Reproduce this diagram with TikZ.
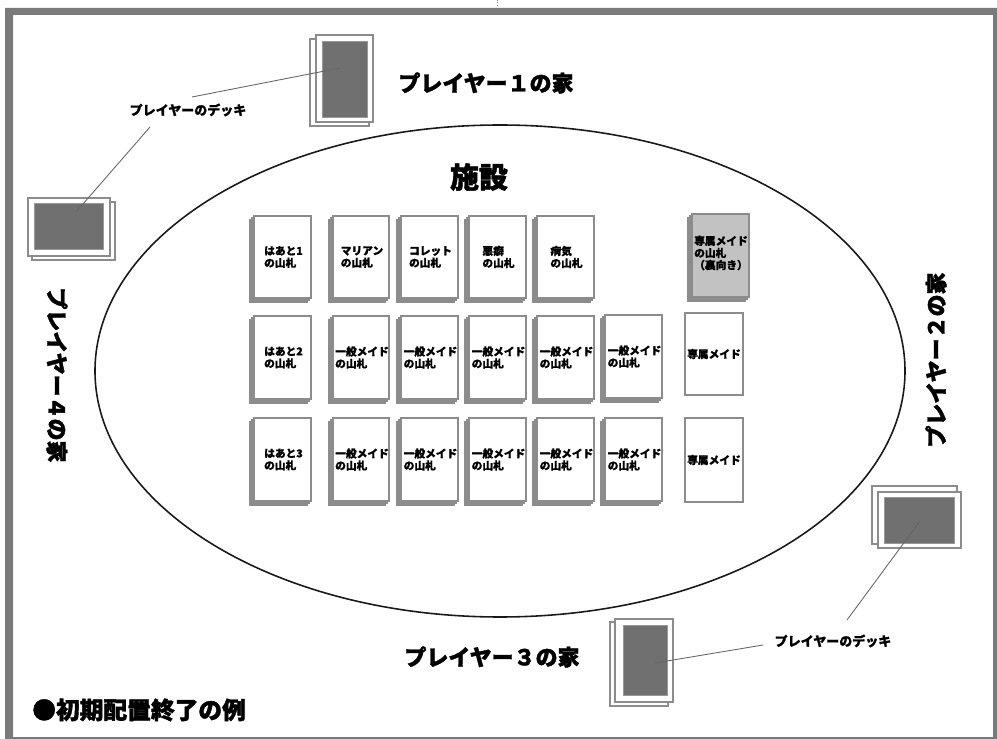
\documentclass[tikz,border=0pt]{standalone}
\usepackage{fontspec}
\newfontfamily\jp{Noto Sans CJK JP}
\newfontfamily\jph{Noto Sans CJK JP}[BoldFeatures={FakeBold=1.6}]
\newfontfamily\jpm{Noto Sans CJK JP}[BoldFeatures={FakeBold=0.9}]
\begin{document}
\begin{tikzpicture}[x=0.02cm,y=-0.02cm,
  frame/.style={fill=black!52, even odd rule},
  cardedge/.style={draw=black!45, line width=0.6pt, fill=white},
  greycard/.style={draw=black!45, line width=0.6pt, fill=black!24},
  darkback/.style={fill=black!56, draw=black!40, line width=0.3pt},
  cardtext/.style={font=\jpm\bfseries\fontsize{6.1}{6.9}\selectfont, align=left, inner sep=0pt},
  leader/.style={draw=black!60, line width=0.5pt},
  deckcap/.style={font=\jpm\bfseries\fontsize{7.4}{8}\selectfont, inner sep=1pt},
  house/.style={font=\jph\bfseries\fontsize{12.5}{13}\selectfont, inner sep=0pt},
  facility/.style={font=\jph\bfseries\fontsize{16.5}{17}\selectfont, inner sep=0pt},
  field/.style={draw=black!90, line width=0.9pt}]
\useasboundingbox (0,0) rectangle (997,739);
% frame
\path[frame] (5,8) rectangle (997,739) (13,15) rectangle (993,737);
\draw[black!50, densely dotted, line width=0.4pt] (497,0) -- (497,6);
% facility ellipse
\draw[field] (500,371) ellipse [x radius=405, y radius=246];
\node[facility] (fac) at (479,177) {施設};

% stacked pile macro: name, x1, y1, x2, y2, text
\newcommand\pile[6]{%
  \draw[cardedge] (#2-4,#3+4) rectangle (#4-4,#5+4);
  \draw[cardedge] (#2-2,#3+2) rectangle (#4-2,#5+2);
  \draw[cardedge] (#2,#3) rectangle (#4,#5);
  \node[cardtext] (#1) at ({(#2+#4)/2+1},{(#3+#5)/2}) {#6};}

% row 1
\pile{h1}{254}{216}{311}{298}{はあと1\\の山札}
\pile{mar}{333}{216}{389}{298}{マリアン\\の山札}
\pile{col}{401}{216}{458}{298}{コレット\\の山札}
\pile{aku}{469}{216}{526}{298}{悪癖\\の山札}
\pile{byo}{537}{216}{594}{298}{病気\\の山札}
\draw[cardedge] (688,218) rectangle (745,301);
\draw[cardedge] (690,216) rectangle (747,299);
\draw[greycard] (692,214) rectangle (749,297);
\node[cardtext] (sen) at (721,253) {専属メイド\\の山札\\（裏向き）};

% row 2
\pile{h2}{254}{316}{311}{399}{はあと2\\の山札}
\pile{ga1}{333}{316}{389}{399}{一般メイド\\の山札}
\pile{ga2}{401}{316}{458}{399}{一般メイド\\の山札}
\pile{ga3}{469}{316}{526}{399}{一般メイド\\の山札}
\pile{ga4}{537}{316}{594}{399}{一般メイド\\の山札}
\pile{ga5}{605}{315}{662}{398}{一般メイド\\の山札}
\draw[cardedge] (685,313) rectangle (743,395);
\node[cardtext] (sm1) at (714,354) {専属メイド};

% row 3
\pile{h3}{254}{418}{311}{501}{はあと3\\の山札}
\pile{gb1}{333}{418}{389}{501}{一般メイド\\の山札}
\pile{gb2}{401}{418}{458}{501}{一般メイド\\の山札}
\pile{gb3}{469}{418}{526}{501}{一般メイド\\の山札}
\pile{gb4}{537}{418}{594}{501}{一般メイド\\の山札}
\pile{gb5}{605}{418}{662}{501}{一般メイド\\の山札}
\draw[cardedge] (685,418) rectangle (743,502);
\node[cardtext] (sm2) at (714,460) {専属メイド};

% player decks
% player 1
\draw[cardedge] (310,39) rectangle (369,126);
\draw[cardedge] (316,35) rectangle (373,122);
\path[darkback] (322,41) rectangle (367,117);
\coordinate (d1) at (340,68);
% player 4
\draw[cardedge] (32,202) rectangle (115,260);
\draw[cardedge] (28,198) rectangle (110,256);
\path[darkback] (34,203) rectangle (103,249);
\coordinate (d4) at (76,212);
% player 2
\draw[cardedge] (872,486) rectangle (957,544);
\draw[cardedge] (878,492) rectangle (961,548);
\path[darkback] (884,497) rectangle (954,543);
\coordinate (d2) at (920,521);
% player 3
\draw[cardedge] (610,622) rectangle (668,706);
\draw[cardedge] (615,619) rectangle (673,702);
\path[darkback] (623,625) rectangle (667,695);
\coordinate (d3) at (655,663);

% deck captions and leaders
\node[deckcap] (capA) at (188,110) {プレイヤーのデッキ};
\node[deckcap] (capB) at (833,641) {プレイヤーのデッキ};
\coordinate (a1) at (192,97);
\coordinate (a2) at (150,127);
\coordinate (b1) at (847,620);
\coordinate (b2) at (763,645);
\draw[leader] (d1) -- (a1);
\draw[leader] (a2) -- (d4);
\draw[leader] (d2) -- (b1);
\draw[leader] (d3) -- (b2);

% houses
\node[house] (p1) at (486,83) {プレイヤー１の家};
\node[house, rotate=90] (p2) at (936,360) {プレイヤー２の家};
\node[house] (p3) at (492,657) {プレイヤー３の家};
\node[house, rotate=-90] (p4) at (57,375) {プレイヤー４の家};

\node[font=\jph\bfseries\fontsize{13.5}{14}\selectfont, inner sep=0pt, anchor=west] (ex) at (32,710) {●初期配置終了の例};
\end{tikzpicture}
\end{document}
